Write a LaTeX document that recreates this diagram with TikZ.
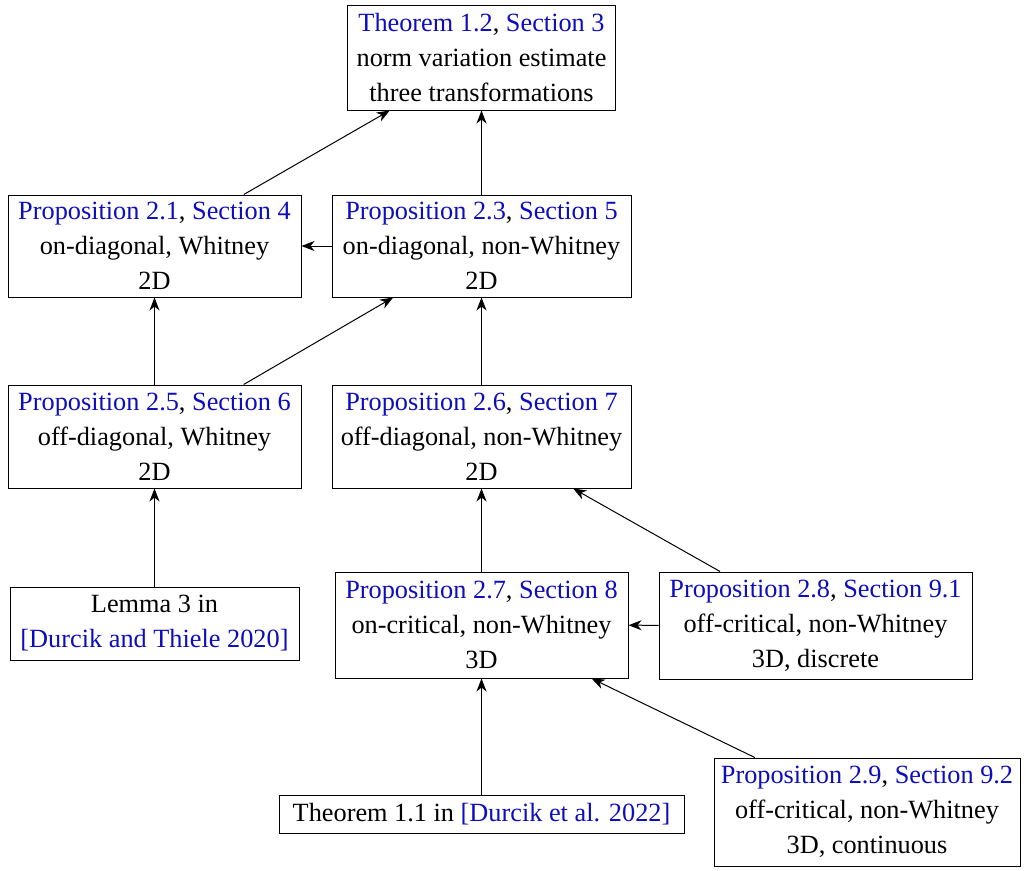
\documentclass[tikz,border=0pt]{standalone}
\usepackage{fontspec}
\setmainfont{Liberation Serif}
\usetikzlibrary{arrows.meta}
\definecolor{lnk}{rgb}{0.05,0.05,0.74}
\newcommand{\lk}[1]{\textcolor{lnk}{#1}}
\begin{document}
\begin{tikzpicture}[x=1pt,y=-1pt,
  box/.style={draw,line width=1pt,align=center,inner sep=0pt,font=\fontsize{26.3}{35}\selectfont},
  arr/.style={-{Stealth[length=13pt,width=10pt,inset=4pt]},line width=1pt}]
\useasboundingbox (0,0) rectangle (1027,870);
\node[box,minimum width=268,minimum height=105] (T12) at (481.5,57.5) {\lk{Theorem 1.2}, \lk{Section 3}\\norm variation estimate\\three transformations};
\node[box,minimum width=293,minimum height=102] (P21) at (154.5,246) {\lk{Proposition 2.1}, \lk{Section 4}\\on-diagonal, Whitney\\2D};
\node[box,minimum width=299,minimum height=102] (P23) at (481.5,246) {\lk{Proposition 2.3}, \lk{Section 5}\\on-diagonal, non-Whitney\\2D};
\node[box,minimum width=293,minimum height=103] (P25) at (154.5,436.5) {\lk{Proposition 2.5}, \lk{Section 6}\\off-diagonal, Whitney\\2D};
\node[box,minimum width=299,minimum height=103] (P26) at (481.5,436.5) {\lk{Proposition 2.6}, \lk{Section 7}\\off-diagonal, non-Whitney\\2D};
\node[box,minimum width=289,minimum height=73] (L3) at (154.5,623.5) {Lemma 3 in\\\lk{[Durcik and Thiele 2020]}};
\node[box,minimum width=293,minimum height=106] (P27) at (481.5,625) {\lk{Proposition 2.7}, \lk{Section 8}\\on-critical, non-Whitney\\3D};
\node[box,minimum width=313,minimum height=107] (P28) at (815.5,625.5) {\lk{Proposition 2.8}, \lk{Section 9.1}\\off-critical, non-Whitney\\3D, discrete};
\node[box,minimum width=405,minimum height=38] (T11) at (481.5,814) {Theorem 1.1 in \lk{[Durcik et al. 2022]}};
\node[box,minimum width=306,minimum height=108] (P29) at (867,812) {\lk{Proposition 2.9}, \lk{Section 9.2}\\off-critical, non-Whitney\\3D, continuous};
\draw[arr] (P21) -- (T12);
\draw[arr] (P23) -- (T12);
\draw[arr] (P23) -- (P21);
\draw[arr] (P25) -- (P21);
\draw[arr] (P25) -- (P23);
\draw[arr] (P26) -- (P23);
\draw[arr] (L3) -- (P25);
\draw[arr] (P27) -- (P26);
\draw[arr] (P28) -- (P26);
\draw[arr] (P28) -- (P27);
\draw[arr] (T11) -- (P27);
\draw[arr] (P29) -- (P27);
\end{tikzpicture}
\end{document}
